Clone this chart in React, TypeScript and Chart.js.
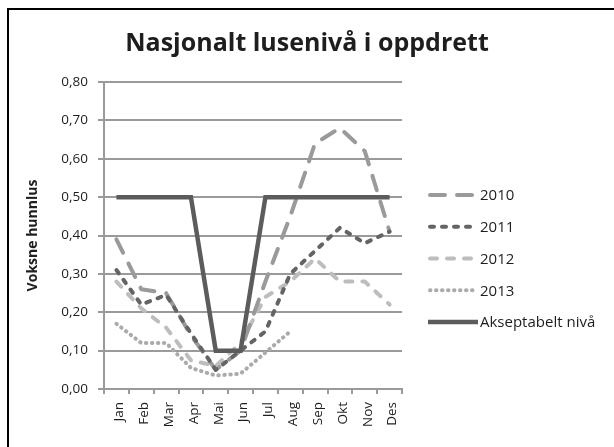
import React, { useEffect, useRef } from 'react';
import { Chart, registerables } from 'chart.js';

Chart.register(...registerables);

const TITLE = 'Nasjonalt lusenivå i oppdrett';
const Y_TITLE = 'Voksne hunnlus';

const months = ['Jan', 'Feb', 'Mar', 'Apr', 'Mai', 'Jun', 'Jul', 'Aug', 'Sep', 'Okt', 'Nov', 'Des'];

const series2010 = [0.39, 0.26, 0.25, 0.14, 0.05, 0.1, 0.28, 0.45, 0.64, 0.68, 0.62, 0.41];
const series2011 = [0.31, 0.22, 0.245, 0.145, 0.05, 0.1, 0.15, 0.3, 0.36, 0.42, 0.38, 0.41];
const series2012 = [0.28, 0.21, 0.16, 0.075, 0.06, 0.12, 0.24, 0.28, 0.34, 0.28, 0.28, 0.22];
const series2013 = [0.17, 0.12, 0.12, 0.055, 0.035, 0.04, 0.095, 0.15, null, null, null, null];
const accepted = [0.5, 0.5, 0.5, 0.5, 0.1, 0.1, 0.5, 0.5, 0.5, 0.5, 0.5, 0.5];

const Y_MIN = 0;
const Y_MAX = 0.8;
const Y_STEP = 0.1;

const FONT = '"Open Sans", Lato, sans-serif';
const TEXT = '#1e1e1e';
const GRID = '#9a9a9a';

export default function App() {
  const ref = useRef<HTMLCanvasElement>(null);

  useEffect(() => {
    const canvas = ref.current;
    if (!canvas) return;

    const base = {
      fill: false,
      pointRadius: 0,
      pointHoverRadius: 0,
      tension: 0,
      borderWidth: 4,
      borderCapStyle: 'round' as const,
      borderJoinStyle: 'round' as const,
      spanGaps: false,
    };

    const datasets: any[] = [
      { ...base, label: '2010', data: series2010, borderColor: '#9a9a9a', borderDash: [15, 12], order: 2 },
      { ...base, label: '2011', data: series2011, borderColor: '#646464', borderDash: [4, 8], order: 1 },
      { ...base, label: '2012', data: series2012, borderColor: '#bdbdbd', borderDash: [7, 10], order: 3 },
      { ...base, label: '2013', data: series2013, borderColor: '#ababab', borderDash: [0.5, 5.5], borderWidth: 4, order: 4 },
      { ...base, label: 'Akseptabelt nivå', data: accepted, borderColor: '#5c5c5c', borderDash: [], borderCapStyle: 'butt', borderJoinStyle: 'miter', borderWidth: 4.5, order: 0 },
    ];

    const overlay = {
      id: 'overlay',
      afterDraw(chart: any) {
        const ctx: CanvasRenderingContext2D = chart.ctx;
        const area = chart.chartArea;
        ctx.save();
        // Title
        ctx.font = `bold 25px ${FONT}`;
        ctx.fillStyle = TEXT;
        ctx.textAlign = 'center';
        ctx.textBaseline = 'alphabetic';
        ctx.fillText(TITLE, chart.width / 2, 51);
        // Legend
        const lx0 = area.right + 26;
        const lx1 = lx0 + 50;
        chart.data.datasets.forEach((ds: any, i: number) => {
          const y = 195 + i * 31.75;
          ctx.beginPath();
          ctx.setLineDash(ds.borderDash || []);
          ctx.lineCap = ds.borderCapStyle || 'butt';
          ctx.lineWidth = ds.borderWidth;
          ctx.strokeStyle = ds.borderColor;
          const inset = ds.borderCapStyle === 'round' ? ds.borderWidth / 2 : 0;
          ctx.moveTo(lx0 + inset, y);
          ctx.lineTo(lx1 - inset, y);
          ctx.stroke();
          ctx.setLineDash([]);
          ctx.font = `15px ${FONT}`;
          ctx.fillStyle = TEXT;
          ctx.textAlign = 'left';
          ctx.textBaseline = 'middle';
          ctx.fillText(ds.label, lx1 + 2, y + 1);
        });
        ctx.restore();
      },
    };

    const chart = new Chart(canvas, {
      type: 'line',
      data: { labels: months, datasets },
      options: {
        animation: false,
        responsive: false,
        events: [],
        layout: { padding: { left: 10, right: 212, top: 82, bottom: 0 } },
        plugins: {
          legend: { display: false },
          title: { display: false },
          tooltip: { enabled: false },
        },
        scales: {
          x: {
            type: 'category',
            offset: true,
            grid: {
              offset: true,
              drawOnChartArea: false,
              drawTicks: true,
              tickLength: 5,
              color: GRID,
              lineWidth: 2,
            },
            border: { color: GRID, width: 2 },
            ticks: {
              autoSkip: false,
              minRotation: 90,
              maxRotation: 90,
              padding: 8,
              labelOffset: 3,
              color: TEXT,
              font: { family: FONT, size: 13.5 },
            },
            afterFit: (s: any) => {
              s.height = 58;
            },
          },
          y: {
            min: Y_MIN,
            max: Y_MAX,
            ticks: {
              stepSize: Y_STEP,
              padding: 10,
              color: TEXT,
              font: { family: FONT, size: 13.5 },
              callback: (v: any) => Number(v).toFixed(2).replace('.', ','),
            },
            grid: {
              color: GRID,
              lineWidth: 2,
              drawTicks: true,
              tickLength: 6,
            },
            border: { color: GRID, width: 2 },
            title: {
              display: true,
              text: Y_TITLE,
              color: TEXT,
              font: { family: FONT, size: 14, weight: 'bold' },
              padding: { top: 15, bottom: 0 },
            },
            afterFit: (s: any) => {
              s.width = 94;
            },
          },
        },
      },
      plugins: [overlay],
    } as any);

    return () => chart.destroy();
  }, []);

  return (
    <div style={{ position: 'fixed', left: 0, top: 0, width: 614, height: 447, background: '#fff', overflow: 'hidden' }}>
      <canvas ref={ref} width={614} height={447} style={{ position: 'absolute', left: 0, top: 0, display: 'block' }} />
      <div
        style={{
          position: 'absolute',
          left: 7,
          top: 8,
          width: 640,
          height: 480,
          border: '2px solid #000',
          boxSizing: 'border-box',
          pointerEvents: 'none',
        }}
      />
    </div>
  );
}
